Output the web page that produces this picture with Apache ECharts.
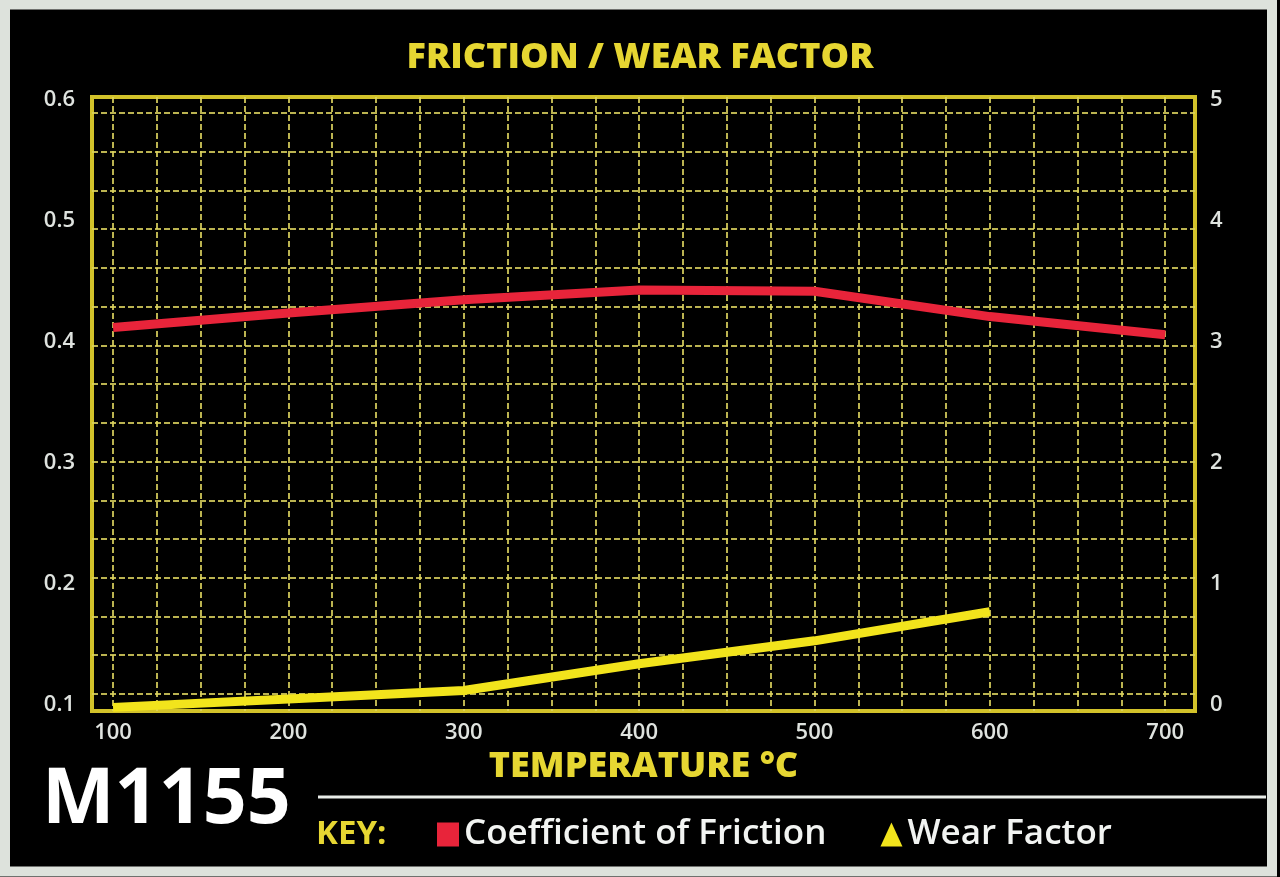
<!DOCTYPE html>
<html>
<head>
<meta charset="utf-8">
<script src="https://cdn.jsdelivr.net/npm/echarts@6/dist/echarts.min.js"></script>
<style>
  html, body { margin: 0; padding: 0; background: #000; }
  #chart { width: 1280px; height: 877px; }
</style>
</head>
<body>
<div id="chart"></div>
<script>
// temperatures (°C)
const frictionTemps = [100, 200, 300, 400, 500, 600, 700]
const frictionValues = [0.412, 0.424, 0.435, 0.443, 0.442, 0.421, 0.406]
const wearTemps = [100, 200, 300, 400, 500, 600]
const wearValues = [-0.02, 0.05, 0.12, 0.34, 0.53, 0.77]

const xTickLabels = [100, 200, 300, 400, 500, 600, 700]
const leftTickLabels = [0.1, 0.2, 0.3, 0.4, 0.5, 0.6]
const rightTickLabels = [0, 1, 2, 3, 4, 5]
// decorative grid of the printed chart
const xGridValues = [100, 125, 150, 175, 200, 225, 250, 275, 300, 325, 350, 375, 400,
  425, 450, 475, 500, 525, 550, 575, 600, 625, 650, 675, 700]
const yGridValues = [0, 1, 2, 3, 4, 5, 6, 7, 8, 9, 10, 11, 12, 13, 14, 15]

const chart = echarts.init(document.getElementById('chart'))

const labelColor = '#dfe3df'
const gold = '#e6d632'
const gridLine = {
  show: true,
  lineStyle: { color: 'rgba(220, 210, 95, 0.85)', width: 2, type: [6, 3] },
}

chart.setOption({
  backgroundColor: '#000',
  animation: false,
  title: {
    text: 'FRICTION / WEAR FACTOR',
    left: 'center',
    top: 35,
    textStyle: { color: gold, fontSize: 36, fontWeight: 800, fontFamily: 'Open Sans' },
  },
  legend: {
    left: 432,
    top: 812,
    itemWidth: 22,
    itemHeight: 24,
    itemGap: 54,
    textStyle: { color: '#f2f4f2', fontSize: 35, fontFamily: 'Open Sans', fontWeight: 600 },
    data: [
      { name: 'Coefficient of Friction', icon: 'rect' },
      { name: 'Wear Factor', icon: 'triangle' },
    ],
  },
  grid: {
    left: 92,
    right: 85,
    top: 97,
    bottom: 166,
    show: true,
    backgroundColor: '#000',
    borderColor: '#d2c22a',
    borderWidth: 4,
  },
  xAxis: {
    type: 'value',
    min: 88,
    max: 717,
    name: 'TEMPERATURE °C',
    nameLocation: 'middle',
    nameGap: 38,
    nameTextStyle: { color: gold, fontSize: 36, fontWeight: 800, fontFamily: 'Open Sans' },
    axisLine: { show: false },
    axisTick: { show: false, customValues: xGridValues },
    axisLabel: {
      customValues: xTickLabels,
      color: labelColor,
      fontSize: 22,
      fontFamily: 'Open Sans',
      fontWeight: 600,
      margin: 11,
    },
    splitLine: gridLine,
  },
  yAxis: [
    {
      type: 'value',
      min: 0.095,
      max: 0.6025,
      position: 'left',
      axisLine: { show: false },
      axisTick: { show: false },
      splitLine: { show: false },
      axisLabel: {
        customValues: leftTickLabels,
        color: labelColor,
        fontSize: 22,
        fontFamily: 'Open Sans',
        fontWeight: 600,
        margin: 17,
      },
    },
    {
      type: 'value',
      min: -0.05,
      max: 5.025,
      position: 'right',
      axisLine: { show: false },
      axisTick: { show: false },
      splitLine: { show: false },
      axisLabel: {
        customValues: rightTickLabels,
        color: labelColor,
        fontSize: 22,
        fontFamily: 'Open Sans',
        fontWeight: 600,
        margin: 15,
      },
    },
    {
      // hidden axis carrying the horizontal grid rules
      type: 'value',
      min: -0.44,
      max: 15.41,
      position: 'right',
      axisLine: { show: false },
      axisTick: { show: false, customValues: yGridValues },
      axisLabel: { show: false },
      splitLine: gridLine,
    },
  ],
  series: [
    {
      name: 'Coefficient of Friction',
      type: 'line',
      yAxisIndex: 0,
      data: frictionTemps.map((t, i) => [t, frictionValues[i]]),
      showSymbol: false,
      symbol: 'rect',
      lineStyle: { color: '#e8243a', width: 9 },
      itemStyle: { color: '#e8243a' },
      z: 5,
    },
    {
      name: 'Wear Factor',
      type: 'line',
      yAxisIndex: 1,
      data: wearTemps.map((t, i) => [t, wearValues[i]]),
      showSymbol: false,
      symbol: 'triangle',
      lineStyle: { color: '#f2e41c', width: 9 },
      itemStyle: { color: '#f2e41c' },
      z: 5,
    },
  ],
  graphic: [
    {
      type: 'text',
      left: 42,
      top: 763,
      style: { text: 'M1155', fill: '#ffffff', font: 'bold 77px "Open Sans"' },
    },
    {
      type: 'text',
      left: 316,
      top: 818,
      style: { text: 'KEY:', fill: gold, font: 'bold 33px "Open Sans"' },
    },
    {
      type: 'line',
      shape: { x1: 318, y1: 797, x2: 1266, y2: 797 },
      style: { stroke: '#e8ece8', lineWidth: 3 },
    },
    {
      type: 'rect',
      shape: { x: 5, y: 4.5, width: 1267, height: 867 },
      style: { fill: null, stroke: '#dde2dc', lineWidth: 10 },
      z: 100,
    },
  ],
})
</script>
</body>
</html>
